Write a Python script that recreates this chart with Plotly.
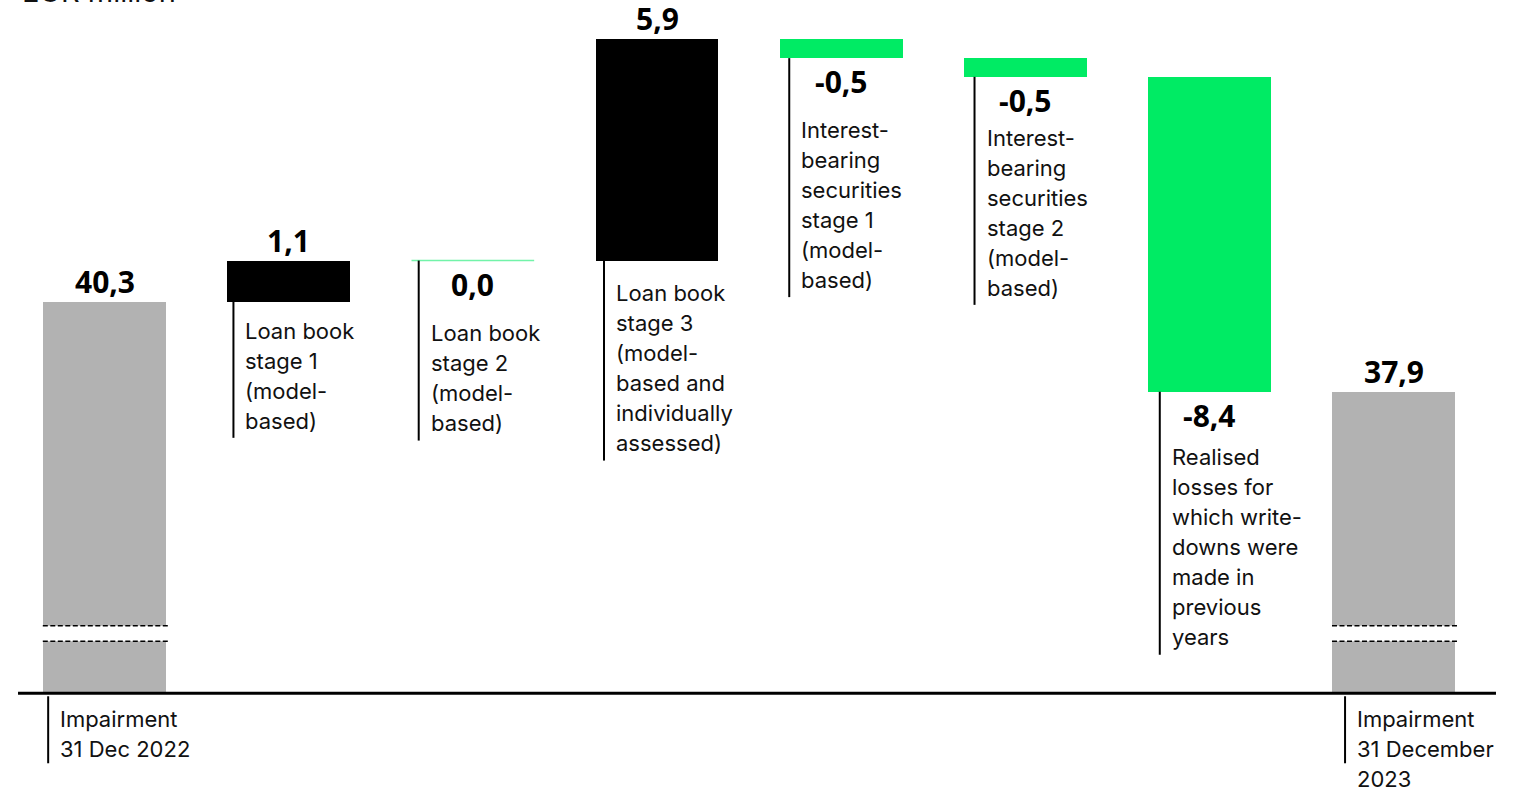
import plotly.graph_objects as go

# ---------------- data ----------------
step_labels = [
    ["Impairment", "31 Dec 2022"],
    ["Loan book", "stage 1", "(model-", "based)"],
    ["Loan book", "stage 2", "(model-", "based)"],
    ["Loan book", "stage 3", "(model-", "based and", "individually", "assessed)"],
    ["Interest-", "bearing", "securities", "stage 1", "(model-", "based)"],
    ["Interest-", "bearing", "securities", "stage 2", "(model-", "based)"],
    ["Realised", "losses for", "which write-", "downs were", "made in", "previous", "years"],
    ["Impairment", "31 December", "2023"],
]
step_values = [40.3, 1.1, 0.0, 5.9, -0.5, -0.5, -8.4, 37.9]
step_kinds = ["total", "delta", "delta", "delta", "delta", "delta", "delta", "total"]
unit_label = "EUR million"

# ---------------- styling ----------------
GREY = "#B2B2B2"
BLACK = "#000000"
GREEN = "#00EB64"
LABEL_FONT = "Inter"
LABEL_SIZE = 22
VALUE_FONT = "Open Sans"
VALUE_SIZE = 30

AXIS_FLOOR = 29.86          # value at which the broken axis is drawn
Y_RANGE = [27.28, 48.35]
X_RANGE = [-0.5674, 7.6533]
BAR_W = 0.666
LINE_PITCH = 30             # px between label lines
# px from bar bottom (or axis) down to the first description baseline
LABEL_DROP = [33, 36, 80, 40, 79, 68, 73, 33]


def fmt(v):
    return f"{v:.1f}".replace(".", ",")


# Work out the floating bars of the waterfall
bases, heights, colors, tops, bottoms = [], [], [], [], []
running = 0.0
for v, kind in zip(step_values, step_kinds):
    if kind == "total":
        running = v
        bases.append(AXIS_FLOOR)
        heights.append(v - AXIS_FLOOR)
        colors.append(GREY)
        tops.append(v)
        bottoms.append(AXIS_FLOOR)
    else:
        start, end = running, running + v
        running = end
        bases.append(min(start, end))
        heights.append(abs(v))
        colors.append(BLACK if v > 0 else GREEN)
        tops.append(max(start, end))
        bottoms.append(min(start, end))

xs = list(range(len(step_values)))

fig = go.Figure(
    go.Bar(
        x=xs,
        y=heights,
        base=bases,
        width=BAR_W,
        marker=dict(color=colors, line=dict(width=0)),
        hoverinfo="skip",
    )
)

shapes = []
annotations = []

# horizontal axis line
shapes.append(dict(type="line", xref="paper", yref="y", x0=0.0119, x1=0.9881,
                   y0=AXIS_FLOOR, y1=AXIS_FLOOR, line=dict(color=BLACK, width=3)))

ascent = 0.969 * LABEL_SIZE + 1

for i, (v, kind, lines) in enumerate(zip(step_values, step_kinds, step_labels)):
    left = i - BAR_W / 2
    right = i + BAR_W / 2

    # zero-size movement still shows as a hairline
    if kind != "total" and v == 0:
        shapes.append(dict(type="line", xref="x", yref="y", x0=left, x1=right,
                           y0=bases[i], y1=bases[i],
                           line=dict(color=GREEN, width=1.5), opacity=0.55))

    # axis-break marks on the total bars
    if kind == "total":
        shapes.append(dict(type="rect", xref="x", yref="y", x0=left - 0.002, x1=right + 0.012,
                           ysizemode="pixel", yanchor=AXIS_FLOOR, y0=52, y1=67.5,
                           fillcolor="white", line=dict(width=0), layer="above"))
        for h in (52, 67.5):
            shapes.append(dict(type="line", xref="x", yref="y", x0=left - 0.002, x1=right + 0.012,
                               ysizemode="pixel", yanchor=AXIS_FLOOR, y0=h, y1=h,
                               line=dict(color=BLACK, width=1.5, dash="5px,2.5px"),
                               layer="above"))

    first_off = LABEL_DROP[i]

    # leader line next to the description
    lx = 5 + 1.1 * i
    if kind == "total":
        ly0, ly1 = -3, -70
    else:
        ly0, ly1 = 0, -(first_off + LINE_PITCH * (len(lines) - 1) + 10)
    shapes.append(dict(type="line", xref="x", yref="y",
                       xsizemode="pixel", xanchor=left, x0=lx, x1=lx,
                       ysizemode="pixel", yanchor=bottoms[i], y0=ly0, y1=ly1,
                       line=dict(color=BLACK, width=2)))

    # description lines
    for j, txt in enumerate(lines):
        annotations.append(dict(
            x=left, y=bottoms[i], xref="x", yref="y",
            xanchor="left", yanchor="top",
            xshift=lx + 10, yshift=-(first_off + LINE_PITCH * j - ascent),
            text=txt, showarrow=False,
            font=dict(family=LABEL_FONT, size=LABEL_SIZE, color="#111111"),
        ))

    # value label
    if kind == "total" or v > 0:
        annotations.append(dict(
            x=i, y=tops[i], xref="x", yref="y", xanchor="center", yanchor="bottom",
            yshift=-2, text=f"<b>{fmt(v)}</b>", showarrow=False,
            font=dict(family=VALUE_FONT, size=VALUE_SIZE, color=BLACK),
        ))
    else:
        annotations.append(dict(
            x=i, y=bottoms[i], xref="x", yref="y", xanchor="center", yanchor="top",
            yshift=-1, text=f"<b>{fmt(v)}</b>", showarrow=False,
            font=dict(family=VALUE_FONT, size=VALUE_SIZE, color=BLACK),
        ))

# unit caption at the top-left
annotations.append(dict(
    x=20 / 1514, y=1, xref="paper", yref="paper", xanchor="left", yanchor="bottom",
    yshift=-11.3, text=unit_label, showarrow=False,
    font=dict(family=LABEL_FONT, size=29, color="#111111"),
))

fig.update_layout(
    width=1514,
    height=790,
    margin=dict(l=0, r=0, t=0, b=0),
    paper_bgcolor="white",
    plot_bgcolor="white",
    showlegend=False,
    xaxis=dict(range=X_RANGE, visible=False, fixedrange=True),
    yaxis=dict(range=Y_RANGE, visible=False, fixedrange=True),
    shapes=shapes,
    annotations=annotations,
    bargap=0,
)

fig.write_html("out.html", config={"displayModeBar": False})
